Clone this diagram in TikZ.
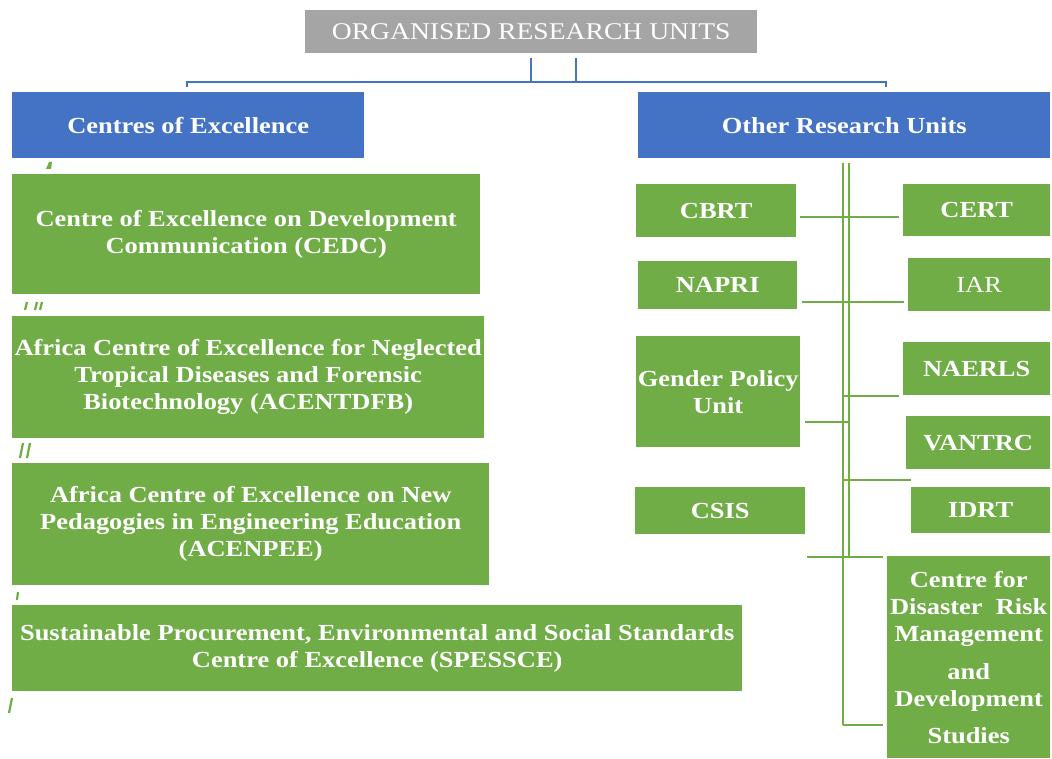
\documentclass[tikz,border=0pt]{standalone}
\usepackage{fontspec}
\setmainfont{Liberation Serif}[FakeStretch=1.15]
\definecolor{ggreen}{HTML}{70AD47}
\definecolor{gblue}{HTML}{4472C4}
\definecolor{ggray}{HTML}{A5A5A5}
\begin{document}
\begin{tikzpicture}[x=1pt,y=-1pt,
  base/.style={inner sep=0pt, anchor=north west, align=center, text=white,
    font=\fontsize{23}{27}\selectfont\bfseries},
  gbox/.style={base, fill=ggreen},
  bbox/.style={base, fill=gblue},
  tbox/.style={base, fill=ggray, font=\fontsize{24}{28}\selectfont},
  gconn/.style={draw=ggreen, line width=2.8pt},
  bconn/.style={draw=gblue, line width=2.5pt},
  slash/.style={draw=ggreen, line width=2.2pt}]
\useasboundingbox (0,0) rectangle (1052,759);

% top
\node[tbox, minimum width=452, minimum height=43] (title) at (305,10) {ORGANISED RESEARCH UNITS};
\node[bbox, minimum width=352, minimum height=66] (coe) at (12,92) {Centres of Excellence};
\node[bbox, minimum width=412, minimum height=66] (oru) at (638,92) {Other Research Units};

% left column
\node[gbox, minimum width=468, minimum height=120] (cedc) at (12,174) {Centre of Excellence on Development\\Communication (CEDC)};
\node[gbox, minimum width=472, minimum height=122] (acent) at (12,316) {Africa Centre of Excellence for Neglected\\Tropical Diseases and Forensic\\Biotechnology (ACENTDFB)};
\node[gbox, minimum width=477, minimum height=122] (acenp) at (12,463) {Africa Centre of Excellence on New\\Pedagogies in Engineering Education\\(ACENPEE)};
\node[gbox, minimum width=730, minimum height=86] (spess) at (12,605) {Sustainable Procurement, Environmental and Social Standards\\Centre of Excellence (SPESSCE)};

% right column
\node[gbox, minimum width=160, minimum height=53] (cbrt) at (636,184) {CBRT};
\node[gbox, minimum width=147, minimum height=52] (cert) at (903,184) {CERT};
\node[gbox, minimum width=159, minimum height=48] (napri) at (638,261) {NAPRI};
\node[gbox, minimum width=142, minimum height=53, font=\fontsize{23}{27}\selectfont] (iar) at (908,258) {IAR};
\node[gbox, minimum width=164, minimum height=111] (gender) at (636,336) {Gender Policy\\Unit};
\node[gbox, minimum width=147, minimum height=53] (naerls) at (903,342) {NAERLS};
\node[gbox, minimum width=144, minimum height=53] (vantrc) at (906,416) {VANTRC};
\node[gbox, minimum width=170, minimum height=47] (csis) at (635,487) {CSIS};
\node[gbox, minimum width=139, minimum height=46] (idrt) at (911,487) {IDRT};
\node[gbox, minimum width=163, minimum height=202] (disaster) at (887,556) {Centre for\\Disaster\ \ Risk\\Management\\[11pt]and\\Development\\[10pt]Studies};

% blue connectors
\coordinate (v1) at (531,58);
\coordinate (v2) at (576,58);
\coordinate (hy) at (0,82);
\coordinate (bl) at (187,87);
\coordinate (br) at (886,87);
\draw[bconn] (v1) -- (v1 |- hy);
\draw[bconn] (v2) -- (v2 |- hy);
\draw[bconn] (bl) -- (bl |- hy) -- (br |- hy) -- (br);

% green trunk
\coordinate (tL1) at (843,163);
\coordinate (tL2) at (843,725);
\coordinate (tR1) at (849,163);
\coordinate (tR2) at (849,557);
\draw[gconn] (tL1) -- (tL2);
\draw[gconn] (tR1) -- (tR2);

\coordinate (y1) at (0,217);
\coordinate (y2) at (0,302);
\coordinate (y3) at (0,396);
\coordinate (y4) at (0,422);
\coordinate (y5) at (0,480);
\coordinate (y6) at (0,557);
\draw[gconn, shorten <=4pt, shorten >=4pt] (cbrt.east |- y1) -- (cert.west |- y1);
\draw[gconn, shorten <=5pt, shorten >=4pt] (napri.east |- y2) -- (iar.west |- y2);
\draw[gconn, shorten >=4pt] (tL1 |- y3) -- (naerls.west |- y3);
\draw[gconn, shorten <=5pt] (gender.east |- y4) -- (tR1 |- y4);
\draw[gconn] (tL1 |- y5) -- (idrt.west |- y5);
\draw[gconn, shorten <=2pt, shorten >=4pt] (csis.east |- y6) -- (disaster.west |- y6);
\draw[gconn, shorten >=4pt] (tL2) -- (disaster.west |- tL2);

% small stray marks
\fill[ggreen] (46,169) -- (49,162) -- (52,162) -- (51,169) -- cycle;
\draw[slash] (25,310) -- (27,302);
\draw[slash] (35,310) -- (37,302);
\draw[slash] (40,310) -- (42,302);
\draw[slash] (20,458) -- (23,443);
\draw[slash] (27,458) -- (30,443);
\draw[slash] (17,600) -- (18,592);
\draw[slash] (9,713) -- (12,698);
\end{tikzpicture}
\end{document}
